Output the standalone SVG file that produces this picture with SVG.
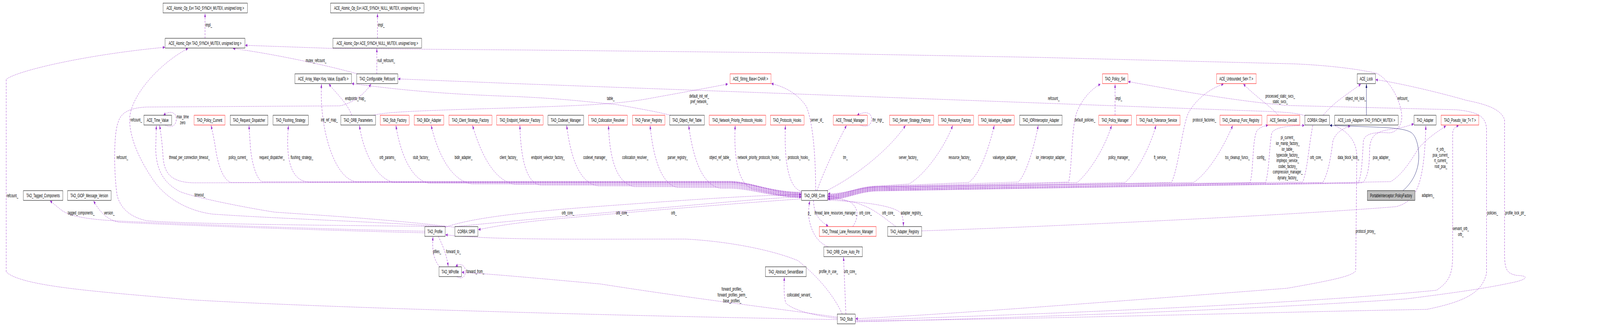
<svg xmlns="http://www.w3.org/2000/svg" width="7460" height="855" viewBox="0 0 7460 855" preserveAspectRatio="none">
<style>
:root{width:100vw;height:100vh}
text{font-family:"Liberation Sans",Arial,sans-serif;font-size:13px;fill:#000}
.n rect{fill:#fff;stroke:#000;stroke-width:1}
.n.r rect{stroke:#ff0000}
.n.g rect{fill:#bfbfbf}
.n text{text-anchor:middle}
.e{fill:none;stroke:#9a32cd;stroke-width:1;stroke-dasharray:5,3;marker-end:url(#ap)}
.ih{fill:none;stroke:#191970;stroke-width:1;marker-end:url(#ab)}
.c{text-anchor:middle}
</style>
<defs>
<marker id="ap" viewBox="0 0 10 8" refX="10" refY="4" markerWidth="10" markerHeight="8" markerUnits="userSpaceOnUse" orient="auto"><path d="M0,0 L10,4 L0,8 z" fill="#9a32cd" stroke="none"/></marker>
<marker id="ab" viewBox="0 0 10 8" refX="10" refY="4" markerWidth="10" markerHeight="8" markerUnits="userSpaceOnUse" orient="auto"><path d="M0,0 L10,4 L0,8 z" fill="#191970" stroke="none"/></marker>
</defs>
<rect width="7460" height="855" fill="#fff"/>
<g id="edges">
<path class="e" d="M956,98 L956,34"/>
<path class="e" d="M1760,98 L1760,34"/>
<path class="e" d="M1665,189 C1560,172 1300,140 1086,124"/>
<path class="e" d="M1757,189 L1757,124"/>
<path class="e" d="M1640,295 C1620,265 1570,240 1533,215"/>
<path class="e" d="M3737,492 C3600,492 3500,466 3400,466 L900,468 C790,466 765,440 760,400 C757,370 750,340 744,321"/>
<path class="e" d="M3737,493 C3600,493 3500,468 3400,468 L1075,467 C1040,460 1015,420 1005,380 C998,355 990,335 984,321"/>
<path class="e" d="M3737,494 C3600,494 3500,464 3400,464 L1220,465 C1195,455 1175,420 1168,380 C1165,355 1162,335 1161,321"/>
<path class="e" d="M3737,495 C3600,495 3500,466 3400,466 L1440,466 C1350,463 1332,400 1345,321"/>
<path class="e" d="M3737,496 C3600,496 3500,465 3400,465 L1660,465 C1560,458 1488,330 1499,215"/>
<path class="e" d="M3737,497 C3600,497 3500,467 3400,467 L1840,467 C1750,460 1690,380 1676,321"/>
<path class="e" d="M3737,498 C3600,498 3500,469 3400,469 L2000,469 C1910,460 1862,380 1846,321"/>
<path class="e" d="M3737,499 C3600,499 3500,471 3400,471 L2200,471 C2100,462 2040,390 2010,321"/>
<path class="e" d="M3737,500 C3600,500 3500,472 3400,472 L2400,472 C2300,462 2240,390 2203,321"/>
<path class="e" d="M3737,501 C3600,501 3500,474 3400,474 L2520,474 C2450,468 2428,400 2424,321"/>
<path class="e" d="M3737,502 C3600,502 3500,476 3400,476 L2790,476 C2700,470 2660,400 2642,321"/>
<path class="e" d="M3737,503 C3600,503 3500,478 3400,478 L2960,478 C2870,470 2842,400 2837,321"/>
<path class="e" d="M3737,504 C3600,504 3500,480 3400,480 L3160,480 C3080,472 3045,400 3031,321"/>
<path class="e" d="M3737,505 C3600,505 3500,482 3400,482 L3360,482 C3270,474 3230,400 3211,321"/>
<path class="e" d="M3737,506 C3650,505 3560,488 3520,485 C3440,478 3420,400 3428,321"/>
<path class="e" d="M3737,490 C3680,482 3655,420 3662,321"/>
<path class="e" d="M3859,498 C3950,498 4000,476 4100,476 L4238,471 C4320,445 4410,370 4442,321"/>
<path class="e" d="M3859,499 C3950,499 4000,477 4100,477 L4517,467 C4570,445 4610,380 4636,321"/>
<path class="e" d="M3859,500 C3950,500 4000,478 4100,478 L4748,466 C4785,445 4820,380 4841,321"/>
<path class="e" d="M3859,501 C3950,501 4000,479 4100,479 L4983,466 C5000,420 4995,320 5023,284 C5050,250 5090,228 5131,215"/>
<path class="e" d="M3859,502 C3950,502 4000,480 4100,480 L5023,467 C5080,440 5150,380 5183,321"/>
<path class="e" d="M3859,503 C3950,503 4000,481 4100,481 L5246,467 C5300,440 5360,380 5390,321"/>
<path class="e" d="M3859,504 C3950,504 4000,482 4100,482 L5462,467 C5495,430 5510,330 5540,290 C5580,250 5650,225 5705,215"/>
<path class="e" d="M3859,505 C3950,505 4000,483 4100,483 L5565,467 C5640,440 5710,370 5748,321"/>
<path class="e" d="M3859,506 C3950,506 4000,484 4100,484 L5828,468 C5845,440 5838,360 5860,335 C5875,325 5895,322 5912,321"/>
<path class="e" d="M3859,507 C3950,507 4000,485 4100,485 L5900,468 C5918,440 5918,370 5930,340 C5945,326 6000,322 6082,321"/>
<path class="e" d="M3859,508 C3950,508 4000,486 4100,486 L6168,467 C6195,440 6205,400 6215,360 C6230,338 6260,330 6296,322"/>
<path class="e" d="M3859,509 C3950,509 4000,487 4100,487 L6352,468 C6380,455 6385,420 6386,380 C6390,345 6420,335 6500,330 C6550,326 6575,320 6592,317"/>
<path class="e" d="M3859,510 C3950,510 4000,488 4100,488 L6332,469 C6350,450 6352,400 6357,360 C6365,340 6420,338 6470,340 C6510,342 6535,320 6536,300 C6535,260 6480,205 6420,188 C6300,172 6100,164 6000,163 L4850,147 L3650,135 L2450,128 L1966,126 L1552,124 L1143,116"/>
<path class="e" d="M3859,511 C3950,511 4000,489 4100,489 L6484,465 C6530,450 6570,420 6612,381 C6660,350 6710,335 6742,322"/>
<path class="e" d="M6121,321 C6100,380 6098,430 6074,466 L4100,478 C4000,480 3950,496 3860,496"/>
<path class="e" d="M3976,580 C4005,557 4005,530 3960,516 C3920,508 3890,503 3860,503"/>
<path class="e" d="M4177,580 C4120,557 4074,533 3990,519 C3930,512 3890,509 3860,509"/>
<path class="e" d="M3845,512 C4017,516 4160,525 4200,545 C4210,555 4212,565 4212,579"/>
<path class="e" d="M2076,582 C2200,556 2500,540 2800,528 C3200,512 3500,500 3736,498"/>
<path class="e" d="M2124,580 C2400,565 2700,550 3000,536 C3300,522 3550,508 3736,504"/>
<path class="e" d="M3737,509 C3400,522 3000,540 2600,560 C2400,570 2300,580 2230,588"/>
<path class="e" d="M2124,582 C1800,560 1400,548 1280,543 C1150,532 900,505 837,490 C770,470 728,440 726,380 L729,321"/>
<path class="e" d="M2072,580 C1700,566 1300,560 990,548 C880,540 780,510 720,465 C650,410 600,350 605,300 C615,240 750,160 877,124"/>
<path class="e" d="M2080,580 C1800,578 900,575 684,565 C600,555 560,530 546,500 C530,440 530,340 551,313 C562,290 600,276 684,274 L1583,271 C1620,268 1690,250 1730,215"/>
<path class="e" d="M1981,592 C1600,588 900,575 558,566 C420,562 320,555 280,535 L233,514"/>
<path class="e" d="M1981,596 C1600,591 900,578 558,569 C510,565 470,548 436,514"/>
<path class="e" d="M2044,605 C2060,625 2080,645 2090,682"/>
<path class="e" d="M2050,683 C2030,670 2012,650 2019,606"/>
<path class="e" d="M2130,708 C2150,716 2170,710 2170,695 C2170,680 2150,672 2124,682"/>
<path class="e" d="M3904,812 C3700,795 3300,770 2800,727 C2500,712 2300,702 2153,697"/>
<path class="e" d="M3927,804 C3895,765 3830,715 3720,667 C3600,640 3400,618 3197,612 C2700,612 2300,615 2077,601"/>
<path class="e" d="M3904,818 C3000,810 1500,788 877,767 C500,748 100,735 29,696 L29,203 C80,181 400,140 769,121"/>
<path class="e" d="M3904,815 C3800,808 3700,795 3664,776 C3655,760 3655,740 3657,709"/>
<path class="e" d="M3944,804 L3933,658"/>
<path class="e" d="M3862,632 C3820,623 3785,600 3772,560 C3768,540 3772,525 3776,514"/>
<path class="e" d="M3793,513 C3795,540 3805,560 3862,579"/>
<path class="e" d="M3803,488 C3803,420 3795,320 3760,273 C3720,240 3660,222 3596,214"/>
<path class="e" d="M3809,488 C3840,440 3900,370 3947,321"/>
<path class="e" d="M3855,488 C4000,448 4150,380 4222,321"/>
<path class="e" d="M4298,591 C4800,582 6000,552 6510,529 C6600,515 6640,480 6648,322"/>
<path class="e" d="M6170,295 C6220,260 6300,235 6345,215"/>
<path class="e" d="M6224,322 C6280,335 6326,360 6326,400 L6321,694 C6300,705 6261,713 6000,738 C5000,780 4400,805 3989,816"/>
<path class="e" d="M6084,296 C6050,290 6000,287 5900,285 C4800,263 3600,238 2400,214 L1856,202"/>
<path class="e" d="M3988,820 C4800,805 6000,781 6698,743 C6760,720 6773,700 6773,650 L6773,340 C6775,328 6790,323 6801,322"/>
<path class="e" d="M3988,822 C5000,815 6000,798 6652,792 C6850,770 6910,745 6931,700 L6931,328 C6925,300 6900,287 6791,281 L6000,270 C5700,255 5400,222 5260,209"/>
<path class="e" d="M3988,824 C5000,810 6000,787 6559,765 C6800,748 6931,738 7071,721 C7120,714 7130,706 7071,705 C7030,700 7015,694 7015,650 L7015,306 C7000,285 6960,270 6838,257 C6700,235 6500,210 6414,204"/>
<path class="e" d="M5199,295 L5199,215"/>
<path class="e" d="M5960,295 C5920,270 5860,250 5797,215"/>
<path class="e" d="M770,320 C800,330 822,320 822,305 C822,288 795,281 762,295"/>
<path class="e" d="M4010,320 C4040,328 4064,320 4064,305 C4064,290 4040,282 3996,295"/>
<path class="e" d="M1742,295 C1800,287 1900,284 2400,276 C2700,270 2878,268 3038,251 C3200,235 3300,225 3394,215"/>
<path class="e" d="M3125,295 C3080,288 3000,280 2878,268 C2700,258 2600,252 2400,247 C2000,240 1800,225 1640,214"/>
<path class="ih" d="M6371,295 L6371,215"/>
<path class="ih" d="M6541,488 C6580,470 6615,440 6615,401 C6615,370 6600,345 6576,338 C6550,330 6495,327 6400,325 L6200,321"/>
<text x="958" y="68">impl_</text>
<text x="1762" y="68">impl_</text>
<text x="1425" y="159">mutex_refcount_</text>
<text x="1760" y="159">null_refcount_</text>
<text x="1609" y="256">endpoints_map_</text>
<text x="1496" y="311">init_ref_map_</text>
<text x="608" y="311">refcount_</text>
<text x="543" y="407">refcount_</text>
<text x="31" y="505">refcount_</text>
<text class="c" x="852" y="303">max_time</text>
<text class="c" x="852" y="318">zero</text>
<text x="788" y="407">thread_per_connection_timeout_</text>
<text x="1066" y="407">policy_current_</text>
<text x="1209" y="407">request_dispatcher_</text>
<text x="1355" y="407">flushing_strategy_</text>
<text x="1769" y="407">orb_params_</text>
<text x="1925" y="407">stub_factory_</text>
<text x="2120" y="407">bidir_adapter_</text>
<text x="2330" y="407">client_factory_</text>
<text x="2477" y="407">endpoint_selector_factory_</text>
<text x="2719" y="407">codeset_manager_</text>
<text x="2901" y="407">collocation_resolver_</text>
<text x="3113" y="407">parser_registry_</text>
<text x="3307" y="407">object_ref_table_</text>
<text x="3439" y="407">network_priority_protocols_hooks_</text>
<text x="3673" y="407">protocols_hooks_</text>
<text x="907" y="503">timeout_</text>
<text x="316" y="549">tagged_components_</text>
<text x="485" y="549">version_</text>
<text x="2019" y="648">pfiles_</text>
<text x="2080" y="648">forward_to_</text>
<text x="2174" y="699">forward_from_</text>
<text x="2830" y="256">table_</text>
<text class="c" x="3260" y="250">default_init_ref_</text>
<text class="c" x="3260" y="264">pref_network_</text>
<text x="2619" y="549">orb_core_</text>
<text x="2872" y="549">orb_core_</text>
<text x="3129" y="549">orb_</text>
<text class="c" x="3414" y="744">forward_profiles_</text>
<text class="c" x="3414" y="759">forward_profiles_perm_</text>
<text class="c" x="3414" y="774">base_profiles_</text>
<text x="3779" y="311">server_id_</text>
<text x="4068" y="311">thr_mgr_</text>
<text x="3931" y="407">tm_</text>
<text x="4191" y="407">server_factory_</text>
<text x="4423" y="407">resource_factory_</text>
<text x="4629" y="407">valuetype_adapter_</text>
<text x="4830" y="407">ior_interceptor_adapter_</text>
<text x="3767" y="549">p_</text>
<text x="3798" y="549">thread_lane_resources_manager_</text>
<text x="4006" y="549">orb_core_</text>
<text x="4113" y="549">orb_core_</text>
<text x="4200" y="549">adapter_registry_</text>
<text x="3819" y="699">profile_in_use_</text>
<text x="3935" y="699">orb_core_</text>
<text x="3669" y="759">collocated_servant_</text>
<text x="4886" y="256">refcount_</text>
<text x="5201" y="256">impl_</text>
<text x="5010" y="311">default_policies_</text>
<text x="5561" y="311">protocol_factories_</text>
<text class="c" x="5969" y="250">processed_static_svcs_</text>
<text class="c" x="5969" y="264">static_svcs_</text>
<text x="5168" y="407">policy_manager_</text>
<text x="5380" y="407">ft_service_</text>
<text x="5712" y="407">tss_cleanup_funcs_</text>
<text x="5860" y="407">config_</text>
<text class="c" x="6004" y="356">pi_current_</text>
<text class="c" x="6004" y="371">ior_manip_factory_</text>
<text class="c" x="6004" y="386">ior_table_</text>
<text class="c" x="6004" y="401">typecode_factory_</text>
<text class="c" x="6004" y="415">implrepo_service_</text>
<text class="c" x="6004" y="430">codec_factory_</text>
<text class="c" x="6004" y="444">compression_manager_</text>
<text class="c" x="6004" y="459">dynany_factory_</text>
<text x="6273" y="256">object_init_lock_</text>
<text x="6515" y="256">refcount_</text>
<text x="6108" y="407">orb_core_</text>
<text x="6237" y="407">data_block_lock_</text>
<text x="6401" y="407">poa_adapter_</text>
<text class="c" x="6718" y="386">rt_orb_</text>
<text class="c" x="6718" y="401">poa_current_</text>
<text class="c" x="6718" y="415">rt_current_</text>
<text class="c" x="6718" y="430">root_poa_</text>
<text x="6629" y="504">adapters_</text>
<text x="6934" y="549">policies_</text>
<text x="7018" y="549">profile_lock_ptr_</text>
<text x="6321" y="596">protocol_proxy_</text>
<text class="c" x="6811" y="589">servant_orb_</text>
<text class="c" x="6811" y="604">orb_</text>
</g>
<g id="n1" class="n"><rect x="760" y="8" width="394" height="25"/><text x="957" y="25">ACE_Atomic_Op_Ex&lt; TAO_SYNCH_MUTEX, unsigned long &gt;</text></g>
<g id="n2" class="n"><rect x="1541" y="8" width="436" height="25"/><text x="1759" y="25">ACE_Atomic_Op_Ex&lt; ACE_SYNCH_NULL_MUTEX, unsigned long &gt;</text></g>
<g id="n3" class="n"><rect x="770" y="98" width="372" height="25"/><text x="956" y="115">ACE_Atomic_Op&lt; TAO_SYNCH_MUTEX, unsigned long &gt;</text></g>
<g id="n4" class="n"><rect x="1552" y="98" width="414" height="25"/><text x="1759" y="115">ACE_Atomic_Op&lt; ACE_SYNCH_NULL_MUTEX, unsigned long &gt;</text></g>
<g id="n5" class="n"><rect x="1375" y="189" width="264" height="25"/><text x="1507" y="206">ACE_Array_Map&lt; Key, Value, EqualTo &gt;</text></g>
<g id="n6" class="n"><rect x="1663" y="189" width="192" height="25"/><text x="1759" y="206">TAO_Configurable_Refcount</text></g>
<g id="n7" class="n r"><rect x="3404" y="189" width="191" height="25"/><text x="3499" y="206">ACE_String_Base&lt; CHAR &gt;</text></g>
<g id="n8" class="n r"><rect x="5140" y="189" width="119" height="25"/><text x="5199" y="206">TAO_Policy_Set</text></g>
<g id="n9" class="n r"><rect x="5672" y="189" width="185" height="25"/><text x="5764" y="206">ACE_Unbounded_Set&lt; T &gt;</text></g>
<g id="n10" class="n"><rect x="6328" y="189" width="85" height="25"/><text x="6370" y="206">ACE_Lock</text></g>
<g id="n11" class="n"><rect x="671" y="295" width="129" height="25"/><text x="735" y="312">ACE_Time_Value</text></g>
<g id="n12" class="n r"><rect x="905" y="295" width="144" height="25"/><text x="977" y="312">TAO_Policy_Current</text></g>
<g id="n13" class="n"><rect x="1074" y="295" width="175" height="25"/><text x="1161" y="312">TAO_Request_Dispatcher</text></g>
<g id="n14" class="n"><rect x="1273" y="295" width="165" height="25"/><text x="1355" y="312">TAO_Flushing_Strategy</text></g>
<g id="n15" class="n"><rect x="1589" y="295" width="162" height="25"/><text x="1670" y="312">TAO_ORB_Parameters</text></g>
<g id="n16" class="n r"><rect x="1773" y="295" width="135" height="25"/><text x="1840" y="312">TAO_Stub_Factory</text></g>
<g id="n17" class="n r"><rect x="1931" y="295" width="138" height="25"/><text x="2000" y="312">TAO_BiDir_Adapter</text></g>
<g id="n18" class="n r"><rect x="2093" y="295" width="201" height="25"/><text x="2193" y="312">TAO_Client_Strategy_Factory</text></g>
<g id="n19" class="n r"><rect x="2316" y="295" width="216" height="25"/><text x="2424" y="312">TAO_Endpoint_Selector_Factory</text></g>
<g id="n20" class="n"><rect x="2555" y="295" width="166" height="25"/><text x="2638" y="312">TAO_Codeset_Manager</text></g>
<g id="n21" class="n r"><rect x="2744" y="295" width="181" height="25"/><text x="2834" y="312">TAO_Collocation_Resolver</text></g>
<g id="n22" class="n r"><rect x="2949" y="295" width="151" height="25"/><text x="3024" y="312">TAO_Parser_Registry</text></g>
<g id="n23" class="n"><rect x="3123" y="295" width="161" height="25"/><text x="3203" y="312">TAO_Object_Ref_Table</text></g>
<g id="n24" class="n r"><rect x="3307" y="295" width="263" height="25"/><text x="3438" y="312">TAO_Network_Priority_Protocols_Hooks</text></g>
<g id="n25" class="n r"><rect x="3592" y="295" width="157" height="25"/><text x="3670" y="312">TAO_Protocols_Hooks</text></g>
<g id="n26" class="n r"><rect x="3885" y="295" width="159" height="25"/><text x="3964" y="312">ACE_Thread_Manager</text></g>
<g id="n27" class="n r"><rect x="4148" y="295" width="205" height="25"/><text x="4250" y="312">TAO_Server_Strategy_Factory</text></g>
<g id="n28" class="n r"><rect x="4375" y="295" width="164" height="25"/><text x="4457" y="312">TAO_Resource_Factory</text></g>
<g id="n29" class="n r"><rect x="4562" y="295" width="167" height="25"/><text x="4645" y="312">TAO_Valuetype_Adapter</text></g>
<g id="n30" class="n"><rect x="4754" y="295" width="198" height="25"/><text x="4853" y="312">TAO_IORInterceptor_Adapter</text></g>
<g id="n31" class="n r"><rect x="5123" y="295" width="152" height="25"/><text x="5199" y="312">TAO_Policy_Manager</text></g>
<g id="n32" class="n r"><rect x="5299" y="295" width="203" height="25"/><text x="5400" y="312">TAO_Fault_Tolerance_Service</text></g>
<g id="n33" class="n r"><rect x="5688" y="295" width="195" height="25"/><text x="5785" y="312">TAO_Cleanup_Func_Registry</text></g>
<g id="n34" class="n r"><rect x="5908" y="295" width="152" height="25"/><text x="5984" y="312">ACE_Service_Gestalt</text></g>
<g id="n35" class="n"><rect x="6084" y="295" width="115" height="25"/><text x="6141" y="312">CORBA::Object</text></g>
<g id="n36" class="n"><rect x="6223" y="295" width="296" height="25"/><text x="6371" y="312">ACE_Lock_Adapter&lt; TAO_SYNCH_MUTEX &gt;</text></g>
<g id="n37" class="n"><rect x="6593" y="295" width="103" height="25"/><text x="6644" y="312">TAO_Adapter</text></g>
<g id="n38" class="n r"><rect x="6719" y="295" width="176" height="25"/><text x="6807" y="312">TAO_Pseudo_Var_T&lt; T &gt;</text></g>
<g id="n39" class="n"><rect x="109" y="488" width="184" height="25"/><text x="201" y="505">TAO_Tagged_Components</text></g>
<g id="n40" class="n"><rect x="315" y="488" width="203" height="25"/><text x="416" y="505">TAO_GIOP_Message_Version</text></g>
<g id="n41" class="n"><rect x="3737" y="488" width="122" height="25"/><text x="3798" y="505">TAO_ORB_Core</text></g>
<g id="n42" class="n g"><rect x="6375" y="488" width="222" height="25"/><text x="6486" y="505">PortableInterceptor::PolicyFactory</text></g>
<g id="n43" class="n"><rect x="1981" y="580" width="95" height="25"/><text x="2028" y="597">TAO_Profile</text></g>
<g id="n44" class="n"><rect x="2121" y="580" width="107" height="25"/><text x="2174" y="597">CORBA::ORB</text></g>
<g id="n45" class="n r"><rect x="3820" y="580" width="265" height="25"/><text x="3952" y="597">TAO_Thread_Lane_Resources_Manager</text></g>
<g id="n46" class="n"><rect x="4139" y="580" width="158" height="25"/><text x="4218" y="597">TAO_Adapter_Registry</text></g>
<g id="n47" class="n"><rect x="3841" y="632" width="180" height="25"/><text x="3931" y="649">TAO_ORB_Core_Auto_Ptr</text></g>
<g id="n48" class="n"><rect x="2047" y="683" width="105" height="25"/><text x="2099" y="700">TAO_MProfile</text></g>
<g id="n49" class="n"><rect x="3569" y="683" width="190" height="25"/><text x="3664" y="700">TAO_Abstract_ServantBase</text></g>
<g id="n50" class="n"><rect x="3904" y="804" width="84" height="25"/><text x="3946" y="821">TAO_Stub</text></g>
</svg>
